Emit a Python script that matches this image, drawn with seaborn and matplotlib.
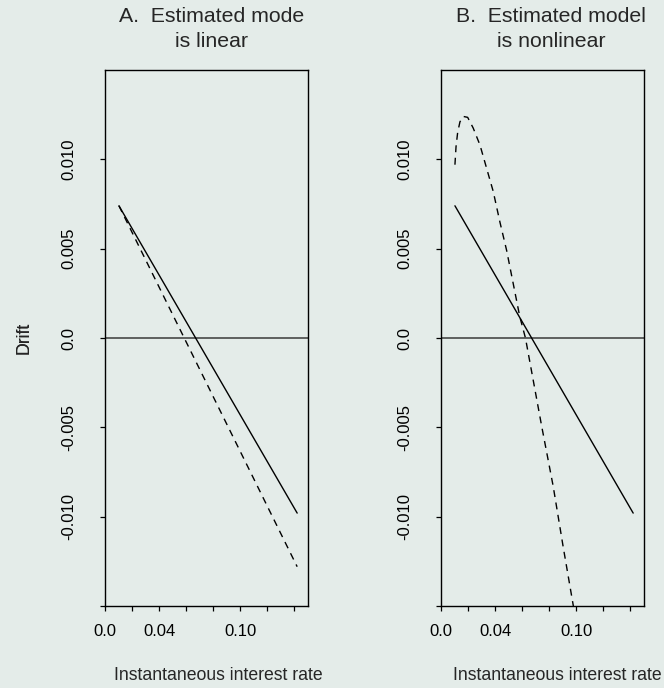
import numpy as np
import pandas as pd
import matplotlib
matplotlib.use("Agg")
import matplotlib.pyplot as plt
import seaborn as sns

# ---- data ----
titles = ["A.  Estimated mode\nis linear", "B.  Estimated model\nis nonlinear"]
xlabel = "Instantaneous interest rate"
ylabel = "Drift"

# Panel A
a_solid_x = [0.0103, 0.142]
a_solid_y = [0.0074, -0.0098]
a_dash_x = [0.0103, 0.142]
a_dash_y = [0.0074, -0.0128]

# Panel B
b_solid_x = [0.0103, 0.142]
b_solid_y = [0.0074, -0.0098]
b_dash_x = [0.0103, 0.0111, 0.0123, 0.0140, 0.0165, 0.0197, 0.0238, 0.0288, 0.0337,
            0.0386, 0.0435, 0.0485, 0.0582, 0.0624, 0.0743, 0.0829, 0.0903, 0.0978]
b_dash_y = [0.0097, 0.0107, 0.0115, 0.0121, 0.0124, 0.01235, 0.01175, 0.0108, 0.0095,
            0.0082, 0.0065, 0.0049, 0.0012, 0.0, -0.0049, -0.0083, -0.0117, -0.0150]

x_ticks = [0.0, 0.02, 0.04, 0.06, 0.08, 0.10, 0.12, 0.14]
x_ticklabels = ["0.0", "", "0.04", "", "", "0.10", "", ""]
y_ticks = [-0.015, -0.010, -0.005, 0.0, 0.005, 0.010]
y_ticklabels = ["", "-0.010", "-0.005", "0.0", "0.005", "0.010"]

BG = "#e4ece9"

sns.set_style("ticks")
plt.rcParams["font.family"] = ["Liberation Sans", "DejaVu Sans"]

W, H = 664, 688
fig = plt.figure(figsize=(W / 100, H / 100), dpi=100, facecolor=BG)

panels = [
    (105, a_solid_x, a_solid_y, a_dash_x, a_dash_y, 212),
    (441, b_solid_x, b_solid_y, b_dash_x, b_dash_y, 551),
]

for i, (left, sx, sy, dx, dy, tcx) in enumerate(panels):
    ax = fig.add_axes([left / W, (H - 606) / H, 203 / W, 536 / H])
    ax.set_facecolor(BG)
    ax.axhline(0, color="#3a3a3a", lw=1.1, zorder=1)
    sns.lineplot(x=sx, y=sy, ax=ax, color="black", lw=1.0, zorder=3)
    sns.lineplot(x=dx, y=dy, ax=ax, color="black", lw=1.0, ls=(0, (5, 4)), zorder=3)
    ax.set_xlim(0, 0.15)
    ax.set_ylim(-0.015, 0.015)
    ax.set_xticks(x_ticks)
    ax.set_xticklabels(x_ticklabels)
    ax.set_yticks(y_ticks)
    ax.set_yticklabels(y_ticklabels)
    plt.setp(ax.get_yticklabels(), rotation=90, va="center")
    ax.tick_params(axis="x", direction="out", length=3.5, width=0.9, pad=9.5,
                   labelsize=12, colors="black")
    ax.tick_params(axis="y", direction="out", length=3.5, width=0.9, pad=17,
                   labelsize=12, colors="black")
    for sp in ax.spines.values():
        sp.set_visible(True)
        sp.set_color("black")
        sp.set_linewidth(1.0)
    ax.set_xlabel(xlabel, fontsize=12.7, va="center")
    ax.xaxis.set_label_coords((tcx + 6.5 - left) / 203, (606 - 675) / 536)
    ax.set_ylabel(ylabel, fontsize=12.7, va="center")
    ax.yaxis.set_label_coords((24 - left) / 203, 0.5)
    fig.text(tcx / W, 1 - 29 / H, titles[i], ha="center", va="center",
             fontsize=15.3, linespacing=1.4)

fig.savefig("out.png", dpi=100, facecolor=BG)
